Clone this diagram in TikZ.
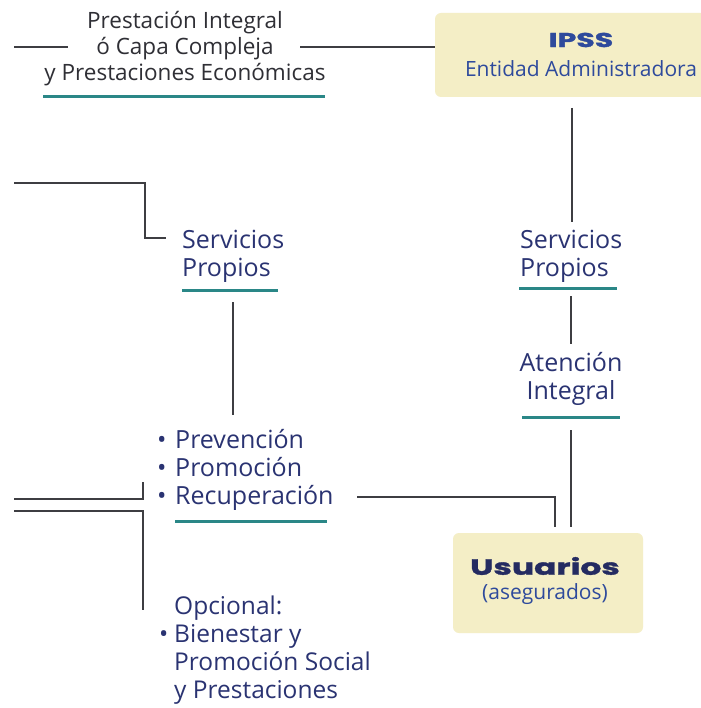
\documentclass[tikz,border=0pt]{standalone}
\usepackage{fontspec}
\setmainfont{Open Sans}
\newfontfamily\heavyfont{Poppins}[FakeStretch=1.5, FakeBold=1.6]
\definecolor{navy}{HTML}{2A3372}
\definecolor{brightblue}{HTML}{2E4A9C}
\definecolor{ink}{HTML}{2F2F35}
\definecolor{wire}{HTML}{3E3E42}
\definecolor{teal}{HTML}{2A8787}
\definecolor{boxfill}{HTML}{F4EEC6}
\newcommand{\bul}[1][18pt]{\makebox[#1][l]{\textbullet}}
\tikzset{
  txt/.style={inner sep=0pt, text=navy, font=\fontsize{25}{28}\selectfont},
  toptxt/.style={inner sep=0pt, text=ink, font=\fontsize{22.5}{26}\selectfont},
  heavy/.style={inner sep=0pt, font=\heavyfont\bfseries\fontsize{20}{24}\selectfont},
  wireline/.style={draw=wire, line width=1.8pt},
  rule/.style={draw=teal, line width=3pt},
  entity/.style={fill=boxfill, rounded corners=6pt, draw=none},
}
\begin{document}
\begin{tikzpicture}[x=1pt,y=-1pt]
\useasboundingbox (0,0) rectangle (700,708);
\fill[white] (0,0) rectangle (700,708);

% --- entity boxes ---
\path[entity] (435,13) rectangle (740,97);
\node[heavy, text=brightblue] (ipss) at (581,40) {IPSS};
\node[txt, text=brightblue, font=\fontsize{21}{26}\selectfont] (admin) at (581,69) {Entidad Administradora};

\path[entity] (453,533) rectangle (643,633);
\node[heavy, text=navy!85!black, font=\heavyfont\bfseries\fontsize{22}{24}\selectfont] (usu) at (545,566) {Usuarios};
\node[txt, text=brightblue, font=\fontsize{21}{26}\selectfont] (aseg) at (545,594) {(asegurados)};

% --- top label ---
\node[toptxt, align=center] (top) at (185,49) {Prestación Integral\\ó Capa Compleja\\y Prestaciones Económicas};
\coordinate (topL1) at (14,47);
\coordinate (topL2) at (68,47);
\coordinate (topR) at (300,47);
\coordinate (ipssW) at (435,47);
\draw[wireline] (topL1) -- (topL2);
\draw[wireline] (topR) -- (ipssW);
\coordinate (u0a) at (43,97);  \coordinate (u0b) at (325,97);
\draw[rule] (u0a) -- (u0b);

% --- right column ---
\node[txt, align=left, anchor=west] (spR) at (520,256) {Servicios\\Propios};
\node[txt, align=center] (atn) at (571,379) {Atención\\Integral};
\coordinate (r1a) at (572,108); \coordinate (r1b) at (572,222);
\coordinate (r2a) at (571,296); \coordinate (r2b) at (571,344);
\coordinate (r3a) at (571,430); \coordinate (r3b) at (571,527);
\draw[wireline] (r1a) -- (r1b);
\draw[wireline] (r2a) -- (r2b);
\draw[wireline] (r3a) -- (r3b);
\coordinate (u1a) at (519,288); \coordinate (u1b) at (617,288);
\draw[rule] (u1a) -- (u1b);
\coordinate (u2a) at (522,417); \coordinate (u2b) at (620,417);
\draw[rule] (u2a) -- (u2b);

% --- left column ---
\node[txt, align=left, anchor=west] (spL) at (182,256) {Servicios\\Propios};
\coordinate (l1a) at (14,183); \coordinate (l1b) at (145,183);
\coordinate (l1c) at (145,238); \coordinate (l1d) at (166,238);
\draw[wireline] (l1a) -- (l1b) -- (l1c) -- (l1d);
\coordinate (u3a) at (182,290); \coordinate (u3b) at (278,290);
\draw[rule] (u3a) -- (u3b);
\coordinate (l2a) at (233,302); \coordinate (l2b) at (233,415);
\draw[wireline] (l2a) -- (l2b);

\node[txt, align=left, anchor=west] (care) at (157,470)
  {\bul Prevención\\\bul Promoción\\\bul Recuperación};
\coordinate (u4a) at (175,521); \coordinate (u4b) at (327,521);
\draw[rule] (u4a) -- (u4b);

\coordinate (l3a) at (14,499); \coordinate (l3b) at (143,499); \coordinate (l3c) at (143,482);
\draw[wireline] (l3a) -- (l3b) -- (l3c);
\coordinate (l4a) at (14,511); \coordinate (l4b) at (143,511); \coordinate (l4c) at (143,610);
\draw[wireline] (l4a) -- (l4b) -- (l4c);

\coordinate (recE) at (357,497); \coordinate (recK) at (555,497); \coordinate (usuN) at (555,527);
\draw[wireline] (recE) -- (recK) -- (usuN);

% --- optional services ---
\node[txt, align=left, anchor=west, font=\fontsize{24.5}{28.2}\selectfont] (opt) at (159,650)
  {\hspace*{15pt}Opcional:\\\bul[15pt]Bienestar y\\\hspace*{15pt}Promoción Social\\\hspace*{15pt}y Prestaciones};
\end{tikzpicture}
\end{document}
